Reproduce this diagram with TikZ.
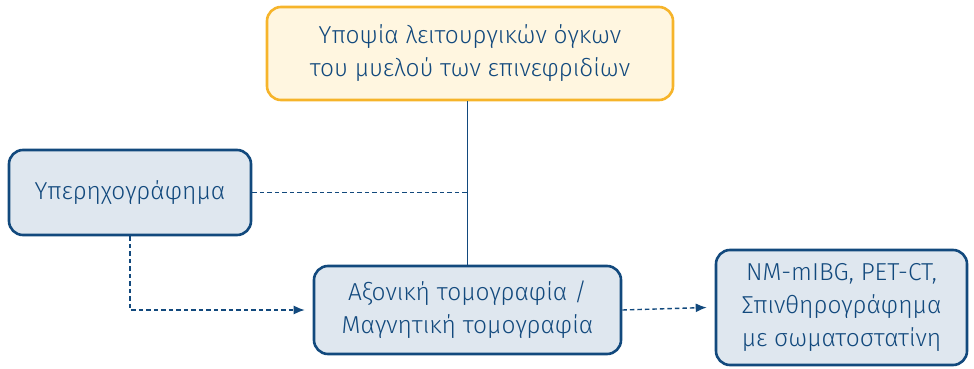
\documentclass[tikz,border=0pt]{standalone}
\usepackage{fontspec}
\setmainfont{Fira Sans Light}
\usetikzlibrary{arrows.meta}

\definecolor{navy}{HTML}{12497D}
\definecolor{paleblue}{HTML}{DFE7EF}
\definecolor{paleyellow}{HTML}{FFF6E0}
\definecolor{amber}{HTML}{F6B42A}

\begin{document}
\begin{tikzpicture}[x=1pt,y=-1pt,
box/.style={draw=navy,fill=paleblue,line width=2.6pt,rounded corners=14pt,align=center,
  text=navy,font=\fontsize{24.5}{33}\selectfont,inner sep=0pt},
link/.style={draw=navy,line width=1.4pt},
hint/.style={link,dash pattern=on 4.5pt off 3pt},
tip/.style={-{Latex[length=11pt,width=9pt]}}]
\useasboundingbox (0,0) rectangle (974,369);
\node[box,draw=amber,fill=paleyellow,minimum width=406pt,minimum height=93pt] (suspect) at (470,53.5) {Υποψία λειτουργικών όγκων\\του μυελού των επινεφριδίων};
\node[box,minimum width=242pt,minimum height=85pt] (ultra) at (130,192.5) {Υπερηχογράφημα};
\node[box,minimum width=307pt,minimum height=88pt] (ctmr) at (467.5,310) {Αξονική τομογραφία /\\Μαγνητική τομογραφία};
\node[box,minimum width=251pt,minimum height=115pt] (nuclear) at (841.5,307.5) {NM-mIBG, PET-CT,\\Σπινθηρογράφημα\\με σωματοστατίνη};
\draw[link] (ctmr.north) -- (ctmr.north |- suspect.south);
\draw[hint] (ultra.east) -- (ultra.east -| ctmr.north);
\draw[hint,tip] (ultra.south) |- ([xshift=-8pt]ctmr.west);
\draw[hint,tip] (ctmr.east) -- ([xshift=-8pt]nuclear.west);
\end{tikzpicture}
\end{document}
